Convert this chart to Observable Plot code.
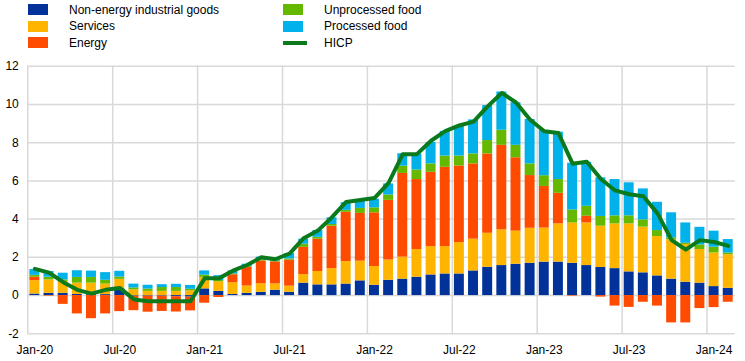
<!DOCTYPE html>
<html>
<head>
<meta charset="utf-8">
<script src="https://cdn.jsdelivr.net/npm/d3@7"></script>
<script src="https://cdn.jsdelivr.net/npm/@observablehq/plot@0.6"></script>
<style>
  html, body { margin: 0; padding: 0; background: #fff; }
  #wrap { position: relative; width: 745px; height: 361px; font-family: "Liberation Sans", Arial, sans-serif; }
  .lg { position: absolute; font-size: 12px; color: #000; line-height: 14px; white-space: nowrap; }
  .sw { position: absolute; width: 20px; height: 11px; }
  .ln { position: absolute; width: 24px; height: 4px; }
</style>
</head>
<body>
<div id="wrap"></div>
<script>
// Months (categories)
const months = [
  "Jan-20","Feb-20","Mar-20","Apr-20","May-20","Jun-20","Jul-20","Aug-20","Sep-20","Oct-20","Nov-20","Dec-20",
  "Jan-21","Feb-21","Mar-21","Apr-21","May-21","Jun-21","Jul-21","Aug-21","Sep-21","Oct-21","Nov-21","Dec-21",
  "Jan-22","Feb-22","Mar-22","Apr-22","May-22","Jun-22","Jul-22","Aug-22","Sep-22","Oct-22","Nov-22","Dec-22",
  "Jan-23","Feb-23","Mar-23","Apr-23","May-23","Jun-23","Jul-23","Aug-23","Sep-23","Oct-23","Nov-23","Dec-23",
  "Jan-24","Feb-24"
];
const tickLabels = ["Jan-20","Jul-20","Jan-21","Jul-21","Jan-22","Jul-22","Jan-23","Jul-23","Jan-24"];
const yTicks = [-2, 0, 2, 4, 6, 8, 10, 12];

// Contributions (percentage points)
const neig = [
  0.08,0.12,0.12,0.06,0.05,0.05,0.35,-0.03,-0.03,-0.03,-0.06,-0.08,
  0.35,0.22,0.06,0.12,0.17,0.28,0.17,0.65,0.56,0.56,0.60,0.77,
  0.54,0.80,0.86,0.96,1.08,1.13,1.13,1.29,1.48,1.57,1.64,1.69,
  1.75,1.75,1.69,1.57,1.47,1.41,1.24,1.19,1.03,0.86,0.70,0.65,
  0.47,0.38
];
const services = [
  0.70,0.70,0.62,0.59,0.60,0.55,0.50,0.30,0.22,0.22,0.22,0.25,
  0.60,0.50,0.61,0.38,0.45,0.33,0.32,0.45,0.70,0.85,1.18,1.03,
  0.98,1.06,1.15,1.45,1.48,1.43,1.64,1.66,1.78,1.87,1.73,1.83,
  1.78,2.00,2.11,2.23,2.16,2.34,2.51,2.39,2.06,2.06,1.97,1.76,
  1.76,1.76
];
const energy = [
  0.18,-0.03,-0.46,-0.96,-1.21,-0.96,-0.84,-0.76,-0.84,-0.80,-0.80,-0.72,
  -0.40,-0.10,0.42,0.98,1.19,1.15,1.36,1.42,1.69,2.22,2.58,2.50,
  2.81,3.12,4.38,3.66,3.89,4.15,4.01,3.94,4.15,4.42,3.84,2.76,
  2.18,1.60,-0.03,0.35,-0.08,-0.55,-0.62,-0.35,-0.55,-1.43,-1.43,-0.68,
  -0.63,-0.35
];
const unprocessed = [
  0.10,0.14,0.08,0.30,0.30,0.20,0.12,0.10,0.12,0.20,0.20,0.08,
  0.12,0.07,0.05,0.04,0.07,0.05,0.07,0.17,0.10,0.09,0.10,0.26,
  0.26,0.28,0.38,0.50,0.44,0.59,0.52,0.52,0.70,0.79,0.65,0.61,
  0.56,0.72,0.68,0.52,0.51,0.42,0.42,0.38,0.31,0.10,0.07,0.24,
  0.30,0.09
];
const processed = [
  0.30,0.30,0.35,0.35,0.33,0.40,0.30,0.20,0.20,0.15,0.17,0.20,
  0.22,0.25,0.15,0.12,0.13,0.15,0.28,0.26,0.35,0.35,0.40,0.42,
  0.45,0.58,0.65,0.84,1.12,1.29,1.54,1.78,1.83,2.00,2.23,2.32,
  2.37,2.48,2.44,2.30,2.02,1.90,1.73,1.62,1.48,1.31,1.06,0.92,
  0.84,0.70
];
const hicp = [
  1.4,1.2,0.7,0.3,0.1,0.3,0.4,-0.2,-0.3,-0.3,-0.3,-0.3,
  0.9,0.9,1.3,1.6,2.0,1.9,2.2,3.0,3.4,4.1,4.9,5.0,
  5.1,5.9,7.4,7.4,8.1,8.6,8.9,9.1,9.9,10.6,10.1,9.2,
  8.6,8.5,6.9,7.0,6.1,5.5,5.3,5.2,4.3,2.9,2.4,2.9,
  2.8,2.6
];

const seriesNames = ["Non-energy industrial goods","Services","Energy","Unprocessed food","Processed food"];
const seriesColors = ["#003299","#FFB400","#FF4B00","#65B800","#00B1EA"];
const lineColor = "#0B7A1C";
const seriesValues = [neig, services, energy, unprocessed, processed];

const rows = [];
seriesValues.forEach((vals, s) => vals.forEach((v, i) => rows.push({i, series: seriesNames[s], value: v})));
const lineRows = hicp.map((v, i) => ({i, value: v}));
const tickIdx = tickLabels.map(l => months.indexOf(l));

const chart = Plot.plot({
  width: 745,
  height: 361,
  marginLeft: 27.3,
  marginRight: 10.2,
  marginTop: 65.7,
  marginBottom: 27.7,
  x: {domain: [0, months.length], axis: null, label: null},
  y: {domain: [-2, 12], axis: null, label: null},
  color: {domain: seriesNames, range: seriesColors},
  style: {fontFamily: "'Liberation Sans', Arial, sans-serif", fontSize: "12px", color: "#000", background: "transparent"},
  marks: [
    Plot.ruleY(yTicks, {stroke: "#d9d9d9", strokeWidth: 1.5}),
    Plot.ruleX(tickIdx, {y1: -2, y2: 12, stroke: "#d9d9d9", strokeWidth: 1.5}),
    Plot.rectY(rows, {x: "i", interval: 1, y: "value", fill: "series", insetLeft: 2.1, insetRight: 2.1}),
    Plot.lineY(lineRows, {x: d => d.i + 0.5, y: "value", stroke: lineColor, strokeWidth: 4, strokeLinejoin: "round"}),
    Plot.axisY(yTicks, {tickSize: 0, tickPadding: 9, tickFormat: d => String(d), fontSize: 12, label: null}),
    Plot.axisX(tickIdx.map(i => i + 0.5), {tickSize: 0, tickPadding: 12, tickFormat: d => months[Math.floor(d)], fontSize: 12, label: null})
  ]
});

const wrap = document.getElementById("wrap");
chart.style.position = "absolute";
chart.style.left = "0px";
chart.style.top = "0px";
wrap.appendChild(chart);

// Legend
const legendItems = [
  {name: seriesNames[0], color: seriesColors[0], col: 0, row: 0, type: "sw"},
  {name: seriesNames[1], color: seriesColors[1], col: 0, row: 1, type: "sw"},
  {name: seriesNames[2], color: seriesColors[2], col: 0, row: 2, type: "sw"},
  {name: seriesNames[3], color: seriesColors[3], col: 1, row: 0, type: "sw"},
  {name: seriesNames[4], color: seriesColors[4], col: 1, row: 1, type: "sw"},
  {name: "HICP", color: lineColor, col: 1, row: 2, type: "ln"}
];
const colX = [28, 283];
const textX = [69, 324];
const rowY = [9.5, 26.2, 42.8];
legendItems.forEach(it => {
  const m = document.createElement("div");
  m.className = it.type;
  m.style.background = it.color;
  m.style.left = colX[it.col] + "px";
  const h = it.type === "sw" ? 11 : 4;
  m.style.top = (rowY[it.row] - h / 2) + "px";
  wrap.appendChild(m);
  const t = document.createElement("div");
  t.className = "lg";
  t.textContent = it.name;
  t.style.left = textX[it.col] + "px";
  t.style.top = (rowY[it.row] - 7) + "px";
  wrap.appendChild(t);
});
</script>
</body>
</html>
